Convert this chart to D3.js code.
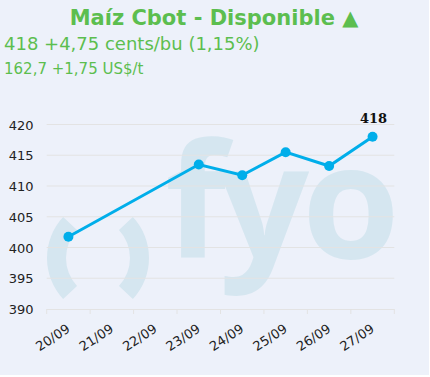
<!DOCTYPE html>
<html><head><meta charset="utf-8">
<script src="https://cdn.jsdelivr.net/npm/d3@7"></script>
<style>
html,body{margin:0;padding:0;background:#fff;}
svg{display:block;}
</style></head>
<body>
<script>
const categories = ["20/09","21/09","22/09","23/09","24/09","25/09","26/09","27/09"];
const values = [401.75, null, null, 413.5, 411.75, 415.5, 413.25, 418];
const yTicks = [390,395,400,405,410,415,420];
const titleText = "Maíz Cbot - Disponible ▲";
const line1 = "418 +4,75 cents/bu (1,15%)";
const line2 = "162,7 +1,75 US$/t";
const lastLabel = "418";

const W = 430, H = 377;
const svg = d3.select("body").append("svg").attr("width", W).attr("height", H);
svg.append("rect").attr("x",0).attr("y",0).attr("width",429).attr("height",375).attr("fill","#EDF1FA");

const green = "#5CBE4F";
const sans = "Verdana, 'DejaVu Sans', sans-serif";
svg.append("text").attr("x",214).attr("y",25).attr("text-anchor","middle")
  .attr("font-family",sans).attr("font-weight","bold").attr("font-size",21)
  .attr("fill",green).text(titleText);
svg.append("text").attr("x",4).attr("y",50)
  .attr("font-family",sans).attr("font-size",18)
  .attr("fill",green).text(line1);
svg.append("text").attr("x",4).attr("y",73.5)
  .attr("font-family",sans).attr("font-size",15)
  .attr("fill",green).text(line2);

const x = d3.scaleBand().domain(categories).range([46.7, 394.3]).padding(0);
const y = d3.scaleLinear().domain([390, 420]).range([309, 124.5]);

// watermark
const wm = svg.append("g").attr("fill","#D5E6F0");
const arc = d3.arc().innerRadius(41).outerRadius(60);
wm.append("path").attr("transform","translate(107,258)").attr("d", arc({startAngle:-133*Math.PI/180, endAngle:-47*Math.PI/180}));
wm.append("path").attr("transform","translate(89,258)").attr("d", arc({startAngle:47*Math.PI/180, endAngle:133*Math.PI/180}));
wm.append("text").attr("x",165).attr("y",258)
  .attr("font-family","'Open Sans', sans-serif").attr("font-weight",700).attr("font-size",158)
  .attr("letter-spacing",-7)
  .text("fyo");

// grid
const grid = svg.append("g");
grid.selectAll("line").data(yTicks.filter(d=>d!==390)).enter().append("line")
  .attr("x1",46.7).attr("x2",394.3).attr("y1",d=>y(d)).attr("y2",d=>y(d))
  .attr("stroke","#E3E3E3").attr("stroke-width",1);

// y axis
const yAxis = svg.append("g").attr("transform","translate(33.5,0)")
  .call(d3.axisLeft(y).tickValues(yTicks).tickSize(0).tickPadding(0));
yAxis.select(".domain").remove();
yAxis.selectAll("text").attr("font-family",sans).attr("font-size",13).attr("fill","#222").attr("dy","0.35em");

// x axis
const xAxis = svg.append("g").attr("transform","translate(0,309)")
  .call(d3.axisBottom(x).tickSize(0).tickPadding(0));
xAxis.select(".domain").attr("stroke","#E3E3E3").attr("d","M46.7,0.5H394.3");
const tickPos = categories.map(c=>x(c)).concat([x(categories[categories.length-1])+x.bandwidth()]);
xAxis.selectAll(".tl").data(tickPos).enter().append("line").attr("class","tl")
  .attr("x1",d=>d).attr("x2",d=>d).attr("y1",0).attr("y2",5).attr("stroke","#E3E3E3");
xAxis.selectAll(".tick text").attr("font-family",sans).attr("font-size",13).attr("fill","#222")
  .attr("text-anchor","end").attr("x",0).attr("y",0).attr("dy",0)
  .attr("transform","translate(2.5,22) rotate(-33)");

// line
const pts = categories.map((c,i)=>({c, v: values[i]})).filter(d=>d.v!==null);
const cx = d=>x(d.c)+x.bandwidth()/2;
const lineGen = d3.line().x(cx).y(d=>y(d.v));
svg.append("path").datum(pts).attr("d",lineGen).attr("fill","none").attr("stroke","#00AEEA").attr("stroke-width",3);
svg.selectAll("circle.pt").data(pts).enter().append("circle").attr("class","pt")
  .attr("cx",cx).attr("cy",d=>y(d.v)).attr("r",5).attr("fill","#00AEEA");

const last = pts[pts.length-1];
svg.append("text").attr("x",cx(last)+1).attr("y",y(last.v)-13.5).attr("text-anchor","middle")
  .attr("font-family","'DejaVu Serif', serif").attr("font-weight","bold").attr("font-size",13).attr("fill","#111")
  .text(lastLabel);
</script>
</body></html>
